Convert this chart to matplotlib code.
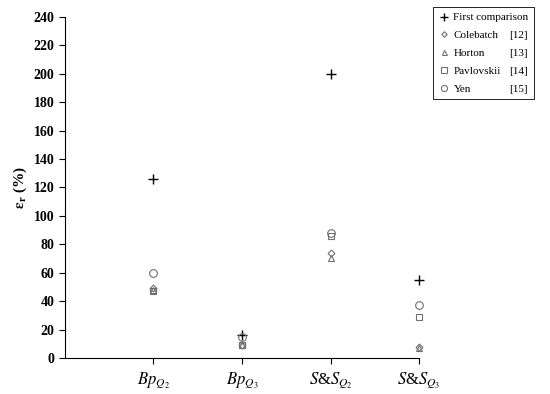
import matplotlib
matplotlib.use('Agg')
import matplotlib.pyplot as plt

plt.rcParams['font.family'] = ['Liberation Serif', 'DejaVu Serif']
plt.rcParams['mathtext.fontset'] = 'stix'

# categories on the x axis
categories = [r'$Bp_{Q_2}$', r'$Bp_{Q_3}$', r'$S$&$S_{Q_2}$', r'$S$&$S_{Q_3}$']

# error values (%)
first_comparison = [126, 16, 200, 55]
colebatch = [49, 9, 74, 8]
horton = [48, 9, 70, 7]
pavlovskii = [47, 9, 86, 29]
yen = [60, 15, 88, 37]

refs = ['', '[12]', '[13]', '[14]', '[15]']

fig = plt.figure(figsize=(5.5, 3.94), dpi=100)
ax = fig.add_axes([0.118, 0.0914, 0.644, 0.866])

x = range(1, len(categories) + 1)
grey = '#707070'
ax.plot(x, first_comparison, '+', color='black', ms=6.5, mew=1.0, clip_on=False, label='First comparison')
ax.plot(x, colebatch, 'D', mfc='none', mec=grey, ms=3.5, mew=0.8, clip_on=False, label='Colebatch')
ax.plot(x, horton, '^', mfc='none', mec=grey, ms=4.5, mew=0.8, clip_on=False, label='Horton')
ax.plot(x, pavlovskii, 's', mfc='none', mec=grey, ms=5, mew=0.8, clip_on=False, label='Pavlovskii')
ax.plot(x, yen, 'o', mfc='none', mec=grey, ms=5.5, mew=0.8, clip_on=False, label='Yen')

ax.set_xlim(0, 4)
ax.set_ylim(0, 240)
ax.set_yticks(range(0, 241, 20))
ax.set_xticks(list(x))
ax.set_xticklabels(categories, fontsize=12)
for lbl in ax.get_yticklabels():
    lbl.set_fontweight('bold')
    lbl.set_fontsize(10)
ax.spines['top'].set_visible(False)
ax.spines['right'].set_visible(False)
ax.tick_params(direction='out', length=4, width=0.8)
ax.tick_params(axis='x', pad=5)
ax.set_ylabel(r'$\mathbf{\varepsilon_r}$ (%)', fontsize=11, fontweight='bold', labelpad=3)

leg = fig.legend(loc='upper left', bbox_to_anchor=(0.787, 0.982), fontsize=8,
                 frameon=True, fancybox=False, edgecolor='black', handlelength=1.0,
                 handletextpad=0.35, borderpad=0.5, labelspacing=0.72,
                 borderaxespad=0.0, markerscale=0.8)
leg.get_frame().set_linewidth(0.6)
leg.get_frame().set_alpha(1.0)

# reference numbers to the right of the legend labels
fig.canvas.draw()
inv = fig.transFigure.inverted()
for t, r in zip(leg.get_texts(), refs):
    if not r:
        continue
    bb = t.get_window_extent()
    y = inv.transform((0, (bb.y0 + bb.y1) / 2))[1]
    fig.text(509 / 550, y, r, fontsize=8, va='center', ha='left', zorder=10)

fig.savefig('out.png', dpi=100)
